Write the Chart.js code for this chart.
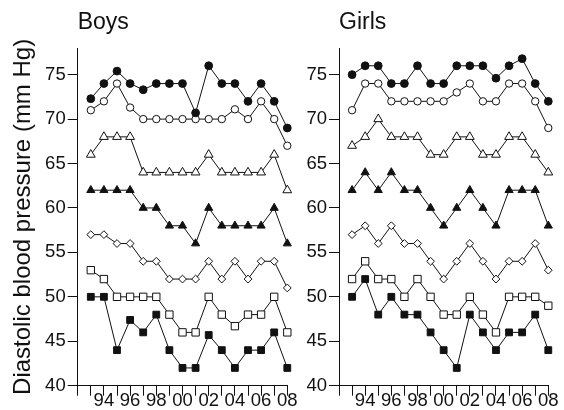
<!DOCTYPE html>
<html>
<head>
<meta charset="utf-8">
<script src="https://cdn.jsdelivr.net/npm/chart.js@4.4.1/dist/chart.umd.min.js"></script>
<style>
  body { margin: 0; background: #fff; }
  .panel { position: absolute; top: 0; }
</style>
</head>
<body>
<div class="panel" style="left:0px"><canvas id="boys" width="300" height="410"></canvas></div>
<div class="panel" style="left:300px"><canvas id="girls" width="264" height="410"></canvas></div>
<script>
const years = [1993, 1994, 1995, 1996, 1997, 1998, 1999, 2000, 2001, 2002, 2003, 2004, 2005, 2006, 2007, 2008];
const yTicks = [40, 45, 50, 55, 60, 65, 70, 75];

// boys, top to bottom
const boysFilledCircle = [72.3, 74, 75.4, 74, 73.3, 74, 74, 74, 70.7, 76, 74, 74, 72, 74, 72, 69];
const boysOpenCircle = [71, 72, 74, 71.3, 70, 70, 70, 70, 70, 70, 70, 71.1, 70, 72, 70, 67];
const boysOpenTriangle = [66, 68, 68, 68, 64, 64, 64, 64, 64, 66, 64, 64, 64, 64, 66, 62];
const boysFilledTriangle = [62, 62, 62, 62, 60, 60, 58, 58, 56, 60, 58, 58, 58, 58, 60, 56];
const boysOpenDiamond = [57, 57, 56, 56, 54, 54, 52, 52, 52, 54, 52, 54, 52, 54, 54, 51];
const boysOpenSquare = [53, 52, 50, 50, 50, 50, 48, 46, 46, 50, 48, 46.7, 48, 48, 50, 46];
const boysFilledSquare = [50, 50, 44, 47.4, 46, 48, 44, 42, 42, 45.7, 44, 42, 44, 44, 46, 42];

// girls, top to bottom
const girlsFilledCircle = [75, 76, 76, 74, 74, 76, 74, 74, 76, 76, 76, 74.6, 76, 76.8, 74, 72];
const girlsOpenCircle = [71, 74, 74, 72, 72, 72, 72, 72, 73, 74, 72, 72, 74, 74, 72, 69];
const girlsOpenTriangle = [67, 68, 70, 68, 68, 68, 66, 66, 68, 68, 66, 66, 68, 68, 66, 64];
const girlsFilledTriangle = [62, 64, 62, 64, 62, 62, 60, 58, 60, 62, 60, 58, 62, 62, 62, 58];
const girlsOpenDiamond = [57, 58, 56, 58, 56, 56, 54, 52, 54, 56, 54, 52, 54, 54, 56, 53];
const girlsOpenSquare = [52, 54, 52, 52, 50, 52, 50, 48, 48, 50, 48, 46, 50, 50, 50, 49];
const girlsFilledSquare = [50, 52, 48, 50, 48, 48, 46, 44, 42, 48, 46, 44, 46, 46, 48, 44];

const FONT = "'Liberation Sans', Arial, Helvetica, sans-serif";
const INK = "#111";

// marker looks: style, filled?, radius
const markers = [
  ["circle", true, 3.9],
  ["circle", false, 3.7],
  ["triangle", false, 5.1],
  ["triangle", true, 4.7],
  ["rectRot", false, 3.9],
  ["rect", false, 5.2],
  ["rect", true, 4.8],
];

function makeSet(values, i) {
  const m = markers[i];
  return {
    data: values.map((v, k) => ({ x: years[k], y: v })),
    borderColor: INK,
    borderWidth: 1,
    pointStyle: m[0],
    pointRadius: m[2],
    pointBackgroundColor: m[1] ? INK : "#fff",
    pointBorderColor: INK,
    pointBorderWidth: 1,
    tension: 0,
    clip: false,
  };
}

function makeChart(id, title, series, yWidth, padRight, showYTitle) {
  return new Chart(document.getElementById(id), {
    type: "line",
    data: { datasets: series.map(makeSet) },
    options: {
      responsive: false,
      animation: false,
      layout: { padding: { left: 0, right: padRight, top: 0, bottom: 0 } },
      plugins: {
        legend: { display: false },
        tooltip: { enabled: false },
        title: {
          display: true,
          text: title,
          align: "start",
          fullSize: false,
          color: INK,
          font: { family: FONT, size: 23, weight: "normal" },
          padding: { top: 8.9, bottom: 11.5 },
        },
      },
      scales: {
        x: {
          type: "linear",
          min: 1992,
          max: 2008,
          afterFit: (s) => { s.height = 24.3; },
          ticks: {
            stepSize: 1,
            autoSkip: false,
            maxRotation: 0,
            padding: -6,
            color: INK,
            font: { family: FONT, size: 18.5 },
            callback: (v) => (v % 2 === 0 && v > 1992 ? String(v).slice(2) : ""),
          },
          grid: { display: true, drawOnChartArea: false, tickLength: 10, tickColor: INK, tickWidth: 1 },
          border: { display: true, color: INK, width: 1 },
        },
        y: {
          min: 40,
          max: 78,
          afterFit: (s) => { s.width = yWidth; },
          afterBuildTicks: (s) => { s.ticks = s.ticks.filter((t) => yTicks.includes(t.value)); },
          ticks: {
            stepSize: 5,
            padding: 2,
            color: INK,
            font: { family: FONT, size: 18.5 },
          },
          grid: { display: true, drawOnChartArea: false, tickLength: 10, tickColor: INK, tickWidth: 1 },
          border: { display: true, color: INK, width: 1 },
          title: {
            display: showYTitle,
            text: "Diastolic blood pressure (mm Hg)",
            color: INK,
            font: { family: FONT, size: 24 },
            padding: { top: 9, bottom: 0 },
          },
        },
      },
    },
  });
}

makeChart("boys", "Boys",
  [boysFilledCircle, boysOpenCircle, boysOpenTriangle, boysFilledTriangle, boysOpenDiamond, boysOpenSquare, boysFilledSquare],
  77.7, 12.7, true);
makeChart("girls", "Girls",
  [girlsFilledCircle, girlsOpenCircle, girlsOpenTriangle, girlsFilledTriangle, girlsOpenDiamond, girlsOpenSquare, girlsFilledSquare],
  39, 15.7, false);
</script>
</body>
</html>
